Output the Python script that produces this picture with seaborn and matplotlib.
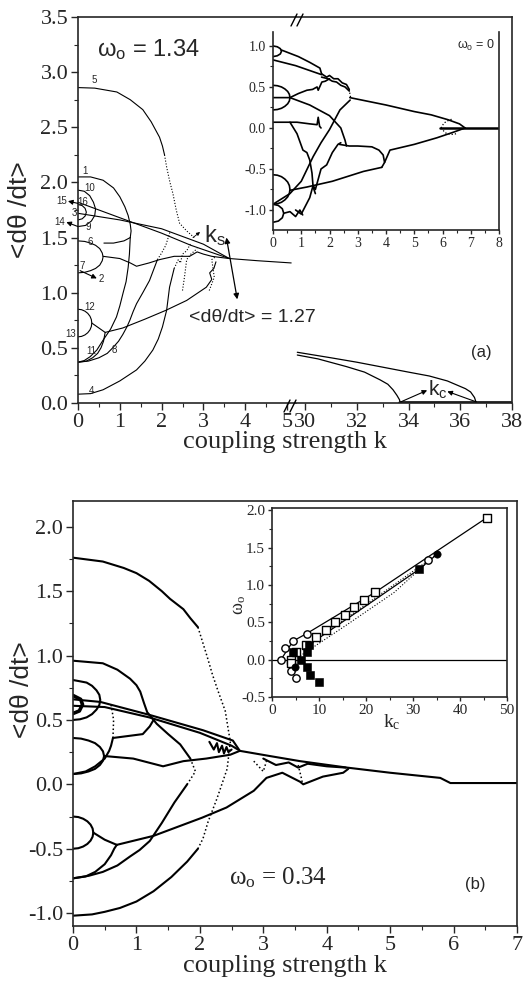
import matplotlib
matplotlib.use("Agg")
import matplotlib.pyplot as plt
from matplotlib.lines import Line2D
from matplotlib.ticker import MultipleLocator
import seaborn as sns

# ---------------- data: panel (a), omega_o = 1.34, left part (k 0..5) ----------
a5_k = [0, 0.4, 0.93, 1.25, 1.55, 1.75, 1.95, 2.02, 2.07]
a5_y = [2.86, 2.855, 2.82, 2.75, 2.66, 2.55, 2.41, 2.33, 2.25]
a5d_k = [2.07, 2.12, 2.2, 2.27, 2.35, 2.43, 2.6, 2.78]
a5d_y = [2.25, 2.14, 2.0, 1.9, 1.75, 1.63, 1.56, 1.5]
a4_k = [0, 0.3, 0.6, 1.0, 1.4, 1.6, 1.79, 1.92, 2.02, 2.12, 2.19, 2.3]
a4_y = [0.08, 0.085, 0.12, 0.2, 0.3, 0.38, 0.48, 0.58, 0.69, 0.84, 1.05, 1.22]
a4d_k = [2.3, 2.4, 2.45, 2.5, 2.6, 2.7]
a4d_y = [1.22, 1.3, 1.27, 1.35, 1.38, 1.45]
a1_k = [0, 0.3, 0.6, 0.85, 1.0, 1.12, 1.2, 1.25, 1.27, 1.25]
a1_y = [2.05, 2.05, 2.02, 1.95, 1.87, 1.78, 1.7, 1.62, 1.56, 1.5]
a1b_k = [1.25, 1.1, 0.85, 0.62]
a1b_y = [1.5, 1.47, 1.45, 1.45]
a11_k = [1.25, 1.23, 1.2, 1.15, 1.08, 1.0, 0.92, 0.78, 0.6, 0.45, 0.29, 0.15, 0]
a11_y = [1.5, 1.35, 1.23, 1.1, 1.0, 0.88, 0.78, 0.67, 0.57, 0.48, 0.42, 0.385, 0.37]
a10_k = [0, 0.15, 0.28, 0.37, 0.42, 0.4, 0.32, 0.18, 0]
a10_y = [1.93, 1.92, 1.88, 1.82, 1.76, 1.7, 1.65, 1.61, 1.6]
a16_k = [0, 0.1, 0.17, 0.2, 0.17, 0.1, 0]
a16_y = [1.8, 1.79, 1.765, 1.73, 1.695, 1.67, 1.66]
lineA_k = [0, 1.0, 2.0, 2.7, 3.62]
lineA_y = [1.82, 1.68, 1.54, 1.43, 1.31]
lineB_k = [0, 1.0, 2.0, 3.0, 3.62]
lineB_y = [1.72, 1.66, 1.58, 1.44, 1.31]
tail_k = [3.62, 4.3, 5.1]
tail_y = [1.31, 1.29, 1.27]
a6_k = [0, 0.16, 0.3, 0.42, 0.52, 0.58, 0.6, 0.58, 0.52, 0.42, 0.3, 0.16, 0]
a6_y = [1.47, 1.465, 1.45, 1.43, 1.4, 1.36, 1.325, 1.29, 1.25, 1.22, 1.2, 1.185, 1.18]
a6b_k = [0.6, 1.0, 1.25, 1.4, 1.7, 1.95, 2.3, 2.67, 2.85, 3.0, 3.2, 3.4, 3.62]
a6b_y = [1.33, 1.31, 1.27, 1.24, 1.27, 1.3, 1.33, 1.33, 1.37, 1.35, 1.33, 1.32, 1.31]
a12_k = [0, 0.085, 0.165, 0.233, 0.286, 0.319, 0.33, 0.319, 0.286, 0.233, 0.165, 0.085, 0]
a12_y = [0.85, 0.846, 0.833, 0.813, 0.787, 0.757, 0.725, 0.693, 0.663, 0.637, 0.617, 0.604, 0.6]
a12b_k = [0.33, 0.5, 0.65, 1.07, 1.6, 2.1, 2.6, 3.07, 3.2, 3.15, 3.25, 3.3]
a12b_y = [0.725, 0.68, 0.64, 0.68, 0.76, 0.84, 0.93, 1.05, 1.12, 1.18, 1.22, 1.28]
a13_k = [0, 0.2, 0.35, 0.47, 0.55, 0.61, 0.65]
a13_y = [0.37, 0.38, 0.41, 0.45, 0.5, 0.56, 0.64]
a8_k = [0, 0.25, 0.5, 0.7, 0.83, 0.97, 1.07, 1.17, 1.24, 1.32, 1.4, 1.55, 1.71, 1.8, 1.9]
a8_y = [0.37, 0.38, 0.41, 0.45, 0.5, 0.56, 0.62, 0.69, 0.75, 0.83, 0.9, 1.0, 1.11, 1.2, 1.3]
a8d_k = [1.9, 2.0, 2.1, 2.2]
a8d_y = [1.3, 1.36, 1.43, 1.55]
a7d_k = [2.5, 2.55, 2.6, 2.7, 2.85]
a7d_y = [1.02, 1.15, 1.3, 1.35, 1.4]
a9d_k = [3.14, 3.26, 3.2, 3.3]
a9d_y = [1.02, 1.14, 1.3, 1.33]

# panel (a) right part (k 30..38)
r_up_k = [29.7, 31.0, 32.0, 33.0, 34.0, 34.8, 35.5, 35.9, 36.2, 36.4, 36.55, 36.62]
r_up_y = [0.46, 0.41, 0.37, 0.325, 0.28, 0.245, 0.2, 0.16, 0.13, 0.1, 0.05, 0.0]
r_lo_k = [29.7, 30.5, 31.6, 32.3, 32.9, 33.2, 33.4, 33.55, 33.65, 33.68]
r_lo_y = [0.435, 0.4, 0.33, 0.28, 0.21, 0.17, 0.12, 0.07, 0.03, 0.0]
r_lock_k = [33.68, 38.0]
r_lock_y = [0.0, 0.0]

# labels of the branches in (a)
branch_txt = ["5", "1", "10", "16", "15", "3", "14", "9", "6", "7", "2", "12", "13", "11", "8", "4"]
branch_k = [0.38, 0.17, 0.29, 0.12, -0.38, -0.08, -0.45, 0.24, 0.29, 0.1, 0.55, 0.29, -0.17, 0.33, 0.88, 0.33]
branch_y = [2.93, 2.1, 1.95, 1.82, 1.83, 1.72, 1.64, 1.6, 1.46, 1.24, 1.12, 0.87, 0.63, 0.47, 0.48, 0.11]

# ---------------- inset (a): omega_o = 0 ----------
ia = {
    "c1": ([0, 0.15, 0.26, 0.3, 0.26, 0.15, 0], [1.0, 0.99, 0.967, 0.935, 0.903, 0.88, 0.87]),
    "l1": ([0.3, 0.9, 1.3, 1.66, 1.72], [0.95, 0.87, 0.8, 0.73, 0.66]),
    "l2": ([0, 0.8, 1.72], [0.83, 0.76, 0.65]),
    "bu": ([1.72, 1.9, 2.0, 2.15, 2.3, 2.45, 2.6, 2.7], [0.66, 0.62, 0.64, 0.6, 0.6, 0.55, 0.53, 0.47]),
    "bl": ([1.72, 1.95, 2.1, 2.25, 2.4, 2.55, 2.7], [0.62, 0.6, 0.57, 0.56, 0.52, 0.5, 0.45]),
    "c2": ([0, 0.155, 0.3, 0.42, 0.52, 0.58, 0.6, 0.58, 0.52, 0.42, 0.3, 0.155, 0],
           [0.52, 0.515, 0.5, 0.476, 0.445, 0.41, 0.37, 0.33, 0.295, 0.264, 0.24, 0.225, 0.22]),
    "l3": ([0, 0.6, 1.3, 2.0, 2.4, 2.55, 2.6], [0.37, 0.37, 0.28, 0.15, 0.0, -0.15, -0.22]),
    "l4": ([0.6, 0.9, 1.2, 1.4, 1.56, 1.6, 1.73, 1.85, 2.0], [0.37, 0.42, 0.46, 0.47, 0.5, 0.46, 0.56, 0.57, 0.6]),
    "l5": ([0, 0.85, 1.3, 1.56, 1.6, 1.65, 1.7], [0.07, 0.07, 0.05, 0.04, 0.13, 0.02, 0.0]),
    "l6": ([0.6, 0.85, 1.06, 1.2, 1.3, 1.38, 1.42, 1.5], [0.07, -0.07, -0.27, -0.3, -0.39, -0.55, -0.72, -0.8]),
    "l7": ([0.8, 1.0, 1.15, 1.3, 1.42, 1.5, 1.7, 1.9, 2.1, 2.3, 2.4], [-1.0, -1.05, -0.95, -0.85, -0.7, -0.75, -0.5, -0.45, -0.3, -0.2, -0.18]),
    "l8": ([0, 0.6, 1.0, 1.42, 1.7, 2.0, 2.37, 2.73], [-0.93, -0.8, -0.65, -0.35, -0.18, -0.02, 0.22, 0.34]),
    "blob": ([2.35, 2.7, 3.0, 3.5, 3.75, 3.9, 3.95, 3.85], [-0.2, -0.22, -0.22, -0.23, -0.27, -0.33, -0.42, -0.48]),
    "low": ([0.6, 1.2, 2.1, 3.2, 3.85], [-0.76, -0.72, -0.65, -0.53, -0.48]),
    "cu": ([2.72, 4.0, 5.0, 5.6, 6.2, 6.6, 6.8], [0.37, 0.28, 0.2, 0.16, 0.1, 0.05, 0.0]),
    "cl": ([3.95, 4.14, 5.0, 5.8, 6.4, 6.8], [-0.42, -0.27, -0.2, -0.12, -0.05, 0.0]),
    "c3": ([0, 0.155, 0.3, 0.42, 0.52, 0.58, 0.6, 0.58, 0.52, 0.42, 0.3, 0.155, 0],
           [-0.57, -0.576, -0.594, -0.623, -0.66, -0.703, -0.75, -0.797, -0.84, -0.877, -0.906, -0.924, -0.93]),
    "c4": ([0, 0.19, 0.33, 0.38, 0.33, 0.19, 0], [-0.93, -0.945, -0.985, -1.04, -1.095, -1.135, -1.15]),
    "l9": ([0.38, 0.6, 0.8, 0.95, 1.05], [-1.04, -1.02, -1.08, -1.0, -1.06]),
}
ia_flat_k = [5.9, 8.0]
ia_flat_y = [0.0, 0.0]
ia_dots = {
    "d1": ([5.95, 6.05, 6.2, 6.35], [0.0, 0.06, 0.09, 0.11]),
    "d2": ([5.95, 6.1, 6.3, 6.5], [0.0, -0.06, -0.08, -0.07]),
    "d3": ([2.7, 2.72, 2.75], [0.47, 0.42, 0.37]),
}

# ---------------- panel (b): omega_o = 0.34 ----------
b1_k = [0, 0.47, 0.8, 1.0, 1.2, 1.4, 1.53, 1.74, 1.85, 1.97]
b1_y = [1.76, 1.73, 1.68, 1.64, 1.58, 1.5, 1.44, 1.36, 1.29, 1.22]
b1d_k = [1.97, 2.11, 2.2, 2.29, 2.4, 2.48, 2.43, 2.27, 2.13, 2.05, 1.97]
b1d_y = [1.22, 1.0, 0.85, 0.72, 0.57, 0.33, 0.12, -0.11, -0.29, -0.42, -0.5]
b1b_k = [1.97, 1.8, 1.55, 1.27, 1.0, 0.74, 0.5, 0.3, 0]
b1b_y = [-0.5, -0.6, -0.72, -0.83, -0.91, -0.96, -0.99, -1.01, -1.02]
b2_k = [0, 0.47, 0.7, 0.9, 1.0, 1.06, 1.12, 1.17, 1.32, 1.5, 1.69, 1.85]
b2_y = [0.96, 0.94, 0.89, 0.82, 0.77, 0.72, 0.63, 0.56, 0.47, 0.39, 0.31, 0.2]
b2d_k = [1.85, 1.93, 1.8]
b2d_y = [0.2, 0.1, 0.0]
b2b_k = [1.8, 1.7, 1.6, 1.5, 1.4, 1.21, 1.05, 0.9, 0.7, 0.47, 0.25, 0]
b2b_y = [0.0, -0.07, -0.14, -0.22, -0.3, -0.44, -0.51, -0.56, -0.63, -0.68, -0.71, -0.73]
b3_k = [0, 0.11, 0.215, 0.3, 0.37, 0.415, 0.43, 0.415, 0.37, 0.3, 0.215, 0.11, 0]
b3_y = [0.81, 0.8, 0.79, 0.765, 0.73, 0.695, 0.655, 0.615, 0.58, 0.545, 0.52, 0.505, 0.5]
b3s_k = [0, 0.12, 0.15, 0.1, 0]
b3s_y = [0.69, 0.66, 0.62, 0.57, 0.55]
bl1_k = [0, 0.43, 1.2, 2.05, 2.52, 2.63]
bl1_y = [0.66, 0.64, 0.54, 0.42, 0.34, 0.26]
bl2_k = [0, 0.5, 1.2, 2.0, 2.5, 2.6]
bl2_y = [0.61, 0.6, 0.52, 0.4, 0.3, 0.27]
btail_k = [2.63, 3.1, 3.58, 4.32, 5.0, 5.79, 5.95, 7.0]
btail_y = [0.26, 0.22, 0.18, 0.13, 0.09, 0.05, 0.01, 0.01]
b4_k = [0, 0.127, 0.245, 0.347, 0.424, 0.473, 0.49, 0.473, 0.424, 0.347, 0.245, 0.127, 0]
b4_y = [0.36, 0.355, 0.34, 0.32, 0.29, 0.256, 0.22, 0.184, 0.15, 0.12, 0.1, 0.085, 0.08]
b4b_k = [0.49, 0.95, 1.42, 1.74, 2.1, 2.48, 2.63]
b4b_y = [0.22, 0.2, 0.14, 0.18, 0.2, 0.23, 0.26]
b5_k = [0, 0.2, 0.35, 0.5, 0.57, 0.6, 0.63]
b5_y = [0.08, 0.1, 0.14, 0.2, 0.26, 0.3, 0.36]
b5d_k = [0.63, 0.64, 0.6]
b5d_y = [0.36, 0.5, 0.62]
b5b_k = [0.63, 1.1, 1.21, 1.27]
b5b_y = [0.36, 0.39, 0.45, 0.5]
b6_k = [0, 0.083, 0.16, 0.226, 0.277, 0.309, 0.32, 0.309, 0.277, 0.226, 0.16, 0.083, 0]
b6_y = [-0.25, -0.254, -0.267, -0.287, -0.313, -0.343, -0.375, -0.407, -0.437, -0.463, -0.483, -0.496, -0.5]
b6b_k = [0.32, 0.5, 0.69]
b6b_y = [-0.375, -0.43, -0.47]
b6c_k = [0, 0.2, 0.35, 0.5, 0.6, 0.65, 0.69]
b6c_y = [-0.73, -0.715, -0.68, -0.62, -0.55, -0.5, -0.47]
b7_k = [0.69, 1.27, 2.03, 2.42, 2.85, 3.05, 3.3, 3.58, 3.63, 3.94, 4.26, 4.34]
b7_y = [-0.47, -0.4, -0.26, -0.18, -0.05, 0.05, 0.09, 0.02, 0.0, 0.06, 0.09, 0.12]
bj_k = [3.0, 3.2, 3.4, 3.55, 3.7, 4.0, 4.3]
bj_y = [0.2, 0.15, 0.17, 0.13, 0.16, 0.14, 0.13]
bz_k = [2.15, 2.22, 2.27, 2.3, 2.35, 2.38, 2.42, 2.45, 2.5]
bz_y = [0.33, 0.27, 0.32, 0.25, 0.3, 0.24, 0.29, 0.25, 0.27]
bd1_k = [2.85, 3.0, 3.05]
bd1_y = [0.18, 0.1, 0.18]
bd2_k = [3.55, 3.6, 3.62]
bd2_y = [0.15, 0.05, 0.0]

# ---------------- inset (b): omega_o versus k_c ----------
osq_k = [4.0, 4.0, 5.1, 7.2, 9.4, 11.5, 13.4, 15.5, 17.5, 19.6, 21.9, 45.7]
osq_w = [0.0, -0.05, 0.1, 0.2, 0.3, 0.4, 0.5, 0.6, 0.7, 0.8, 0.9, 1.9]
ocir_k = [1.9, 2.8, 4.5, 7.4, 4.0, 5.1, 33.1]
ocir_w = [0.0, 0.15, 0.25, 0.35, -0.15, -0.25, 1.34]
fsq_k = [4.5, 6.1, 7.4, 7.9, 7.4, 8.1, 10.0, 31.3]
fsq_w = [0.1, 0.0, 0.1, 0.2, -0.1, -0.2, -0.3, 1.21]
fcir_k = [4.9, 35.1]
fcir_w = [-0.1, 1.41]
fit1_k = [1.9, 4.5, 7.4, 21.9, 45.7]
fit1_w = [0.0, 0.25, 0.35, 0.9, 1.9]
fit2_k = [7.9, 20.0, 31.3, 35.1]
fit2_w = [0.2, 0.72, 1.21, 1.41]
fit3_k = [5.0, 15.0, 25.0, 35.1]
fit3_w = [0.1, 0.52, 0.96, 1.41]
fit4_k = [6.0, 16.0, 26.0, 33.0]
fit4_w = [0.05, 0.47, 0.9, 1.3]

# ---------------- figure ----------
sns.set_style("ticks")
plt.rcParams["font.family"] = ["Liberation Serif", "DejaVu Serif"]
plt.rcParams["axes.unicode_minus"] = False
plt.rcParams["axes.linewidth"] = 1.2
SANS = ["Liberation Sans", "DejaVu Sans"]

W, H = 523, 983
fig = plt.figure(figsize=(W / 100, H / 100), dpi=100)


def rect(l, t, r, b):
    return [l / W, 1 - b / H, (r - l) / W, (b - t) / H]


def curve(ax, k, y, lw=0.8, ls="-"):
    sns.lineplot(x=k, y=y, ax=ax, color="black", linewidth=lw, linestyle=ls,
                 sort=False, estimator=None, legend=False)


DOT = (0, (1, 1.6))


def style_ticks(ax, size, major_len=5, minor_len=3):
    ax.tick_params(which="major", direction="out", length=major_len, width=1, labelsize=size, pad=2)
    ax.tick_params(which="minor", direction="out", length=minor_len, width=0.8)
    ax.set_xlabel("")
    ax.set_ylabel("")


# ---- panel (a) left
axL = fig.add_axes(rect(78, 17, 296, 403))
axR = fig.add_axes(rect(296, 17, 512, 403))
for k, y in [(a5_k, a5_y), (a4_k, a4_y), (a1_k, a1_y), (a11_k, a11_y), (a1b_k, a1b_y),
             (a10_k, a10_y), (a16_k, a16_y), (lineA_k, lineA_y), (lineB_k, lineB_y),
             (tail_k, tail_y), (a6_k, a6_y), (a6b_k, a6b_y), (a12_k, a12_y),
             (a12b_k, a12b_y), (a13_k, a13_y), (a8_k, a8_y)]:
    curve(axL, k, y, lw=0.8)
for k, y in [(a5d_k, a5d_y), (a4d_k, a4d_y), (a8d_k, a8d_y), (a7d_k, a7d_y), (a9d_k, a9d_y)]:
    curve(axL, k, y, lw=0.8, ls=DOT)
axL.set_xlim(0, 5.215)
axL.set_ylim(0, 3.5)
axL.xaxis.set_major_locator(MultipleLocator(1))
axL.xaxis.set_minor_locator(MultipleLocator(0.5))
axL.yaxis.set_major_locator(MultipleLocator(0.5))
axL.yaxis.set_minor_locator(MultipleLocator(0.25))
axL.set_xticks([0, 1, 2, 3, 4, 5])
axL.spines["right"].set_visible(False)
style_ticks(axL, 16)

for t, kk, yy in zip(branch_txt, branch_k, branch_y):
    axL.text(kk, yy, t, fontsize=7, family=SANS, ha="center", va="center", clip_on=False)
arw = dict(arrowstyle="-|>", lw=0.8, color="black", mutation_scale=7, shrinkA=0, shrinkB=0)
axL.annotate("", xy=(-0.24, 1.83), xytext=(0.0, 1.81), arrowprops=arw, annotation_clip=False)
axL.annotate("", xy=(-0.28, 1.64), xytext=(0.0, 1.6), arrowprops=arw, annotation_clip=False)
axL.annotate("", xy=(0.45, 1.13), xytext=(0.05, 1.2), arrowprops=arw, annotation_clip=False)
axL.annotate("", xy=(2.92, 1.55), xytext=(2.75, 1.5), arrowprops=dict(arw, lw=0.6, mutation_scale=5))
axL.annotate("", xy=(3.55, 1.5), xytext=(3.81, 0.94),
             arrowprops=dict(arrowstyle="<|-|>", lw=0.9, color="black", mutation_scale=8,
                             shrinkA=0, shrinkB=0), annotation_clip=False)
axL.text(3.27, 1.52, r"$\mathregular{k_s}$", fontsize=17, family=SANS, ha="center", va="center")

# ---- panel (a) right
curve(axR, r_up_k, r_up_y, lw=0.9)
curve(axR, r_lo_k, r_lo_y, lw=0.9)
curve(axR, r_lock_k, r_lock_y, lw=2.6)
axR.set_xlim(29.65, 38)
axR.set_ylim(0, 3.5)
axR.set_xticks([30, 32, 34, 36, 38])
axR.xaxis.set_minor_locator(MultipleLocator(1))
axR.set_yticks([])
axR.spines["left"].set_visible(False)
style_ticks(axR, 16)
axR.annotate("", xy=(34.72, 0.115), xytext=(33.7, 0.01), arrowprops=arw)
axR.annotate("", xy=(35.5, 0.105), xytext=(36.62, 0.01), arrowprops=arw)
axR.text(35.15, 0.115, r"$\mathregular{k_c}$", fontsize=15, family=SANS, ha="center", va="center")

# break marks
for (x0, y0) in [(287, 406), (293, 406), (294, 20), (300, 20)]:
    fig.add_artist(Line2D([(x0 - 3) / W, (x0 + 3) / W], [1 - (y0 + 6) / H, 1 - (y0 - 6) / H],
                          color="black", lw=1.0))

# ---- inset (a)
axI = fig.add_axes(rect(273, 32, 499, 230))
axI.set_zorder(5)
for name, (k, y) in ia.items():
    curve(axI, k, y, lw=1.2)
curve(axI, ia_flat_k, ia_flat_y, lw=1.8)
for name, (k, y) in ia_dots.items():
    curve(axI, k, y, lw=0.9, ls=DOT)
axI.set_xlim(0, 8)
axI.set_ylim(-1.244, 1.17)
axI.xaxis.set_major_locator(MultipleLocator(1))
axI.xaxis.set_minor_locator(MultipleLocator(0.5))
axI.yaxis.set_major_locator(MultipleLocator(0.5))
axI.yaxis.set_minor_locator(MultipleLocator(0.25))
axI.spines["top"].set_visible(False)
style_ticks(axI, 10, 3, 2)
axI.text(0.9, 0.93, r"$\mathregular{\omega_o}$ = 0", transform=axI.transAxes, fontsize=9,
         family=SANS, ha="center", va="center")

# ---- panel (b)
axB = fig.add_axes(rect(73, 501, 517, 926))
for k, y in [(b1_k, b1_y), (b1b_k, b1b_y), (b2_k, b2_y), (b2b_k, b2b_y), (b3_k, b3_y),
             (bl1_k, bl1_y), (bl2_k, bl2_y), (btail_k, btail_y), (b4_k, b4_y), (b4b_k, b4b_y),
             (b5_k, b5_y), (b5b_k, b5b_y), (b6_k, b6_y), (b6b_k, b6b_y), (b6c_k, b6c_y),
             (b7_k, b7_y), (bj_k, bj_y), (bz_k, bz_y)]:
    curve(axB, k, y, lw=1.5)
curve(axB, b3s_k, b3s_y, lw=2.6)
for k, y in [(b1d_k, b1d_y), (b2d_k, b2d_y), (b5d_k, b5d_y), (bd1_k, bd1_y), (bd2_k, bd2_y)]:
    curve(axB, k, y, lw=1.1, ls=DOT)
axB.set_xlim(0, 7)
axB.set_ylim(-1.1, 2.2)
axB.xaxis.set_major_locator(MultipleLocator(1))
axB.xaxis.set_minor_locator(MultipleLocator(0.5))
axB.yaxis.set_major_locator(MultipleLocator(0.5))
axB.yaxis.set_minor_locator(MultipleLocator(0.25))
style_ticks(axB, 16)

# ---- inset (b)
axC = fig.add_axes(rect(272, 508, 507, 697))
axC.set_zorder(5)
axC.axhline(0, color="black", lw=0.9)
curve(axC, fit1_k, fit1_w, lw=0.9)
curve(axC, fit2_k, fit2_w, lw=0.9)
curve(axC, fit3_k, fit3_w, lw=0.8, ls=DOT)
curve(axC, fit4_k, fit4_w, lw=0.8, ls=DOT)
sns.scatterplot(x=osq_k, y=osq_w, ax=axC, marker="s", s=28, facecolor="white",
                edgecolor="black", linewidth=1.0, zorder=4, legend=False)
sns.scatterplot(x=ocir_k, y=ocir_w, ax=axC, marker="o", s=28, facecolor="white",
                edgecolor="black", linewidth=1.0, zorder=4, legend=False)
sns.scatterplot(x=fsq_k, y=fsq_w, ax=axC, marker="s", s=28, color="black",
                edgecolor="black", zorder=5, legend=False)
sns.scatterplot(x=fcir_k, y=fcir_w, ax=axC, marker="o", s=28, color="black",
                edgecolor="black", zorder=5, legend=False)
axC.set_xlim(0, 50)
axC.set_ylim(-0.5, 2.03)
axC.xaxis.set_major_locator(MultipleLocator(10))
axC.xaxis.set_minor_locator(MultipleLocator(5))
axC.yaxis.set_major_locator(MultipleLocator(0.5))
axC.yaxis.set_minor_locator(MultipleLocator(0.25))
style_ticks(axC, 11, 3, 2)

# ---- texts
fig.text(148 / W, 1 - 50 / H, r"$\mathregular{\omega_o}$ = 1.34", fontsize=17, family=SANS,
         ha="center", va="center")
fig.text(252 / W, 1 - 317 / H, "<dθ/dt> = 1.27", fontsize=14, family=SANS, ha="center", va="center")
fig.text(481 / W, 1 - 352 / H, "(a)", fontsize=12, family=SANS, ha="center", va="center")
fig.text(475 / W, 1 - 885 / H, "(b)", fontsize=12, family=SANS, ha="center", va="center")
fig.text(278 / W, 1 - 878 / H, r"$\mathregular{\omega_o}$ = 0.34", fontsize=18, ha="center", va="center")
fig.text(285 / W, 1 - 442 / H, "coupling strength k", fontsize=19, ha="center", va="center")
fig.text(285 / W, 1 - 966 / H, "coupling strength k", fontsize=19, ha="center", va="center")
fig.text(20 / W, 1 - 210 / H, "<dθ /dt>", fontsize=19, family=SANS, rotation=90, ha="center", va="center")
fig.text(22 / W, 1 - 690 / H, "<dθ /dt>", fontsize=19, family=SANS, rotation=90, ha="center", va="center")
fig.text(240 / W, 1 - 605 / H, r"$\mathregular{\omega_o}$", fontsize=13, rotation=90, ha="center", va="center")
fig.text(392 / W, 1 - 722 / H, r"$\mathregular{k_c}$", fontsize=14, ha="center", va="center")

fig.savefig("out.png", dpi=100)
